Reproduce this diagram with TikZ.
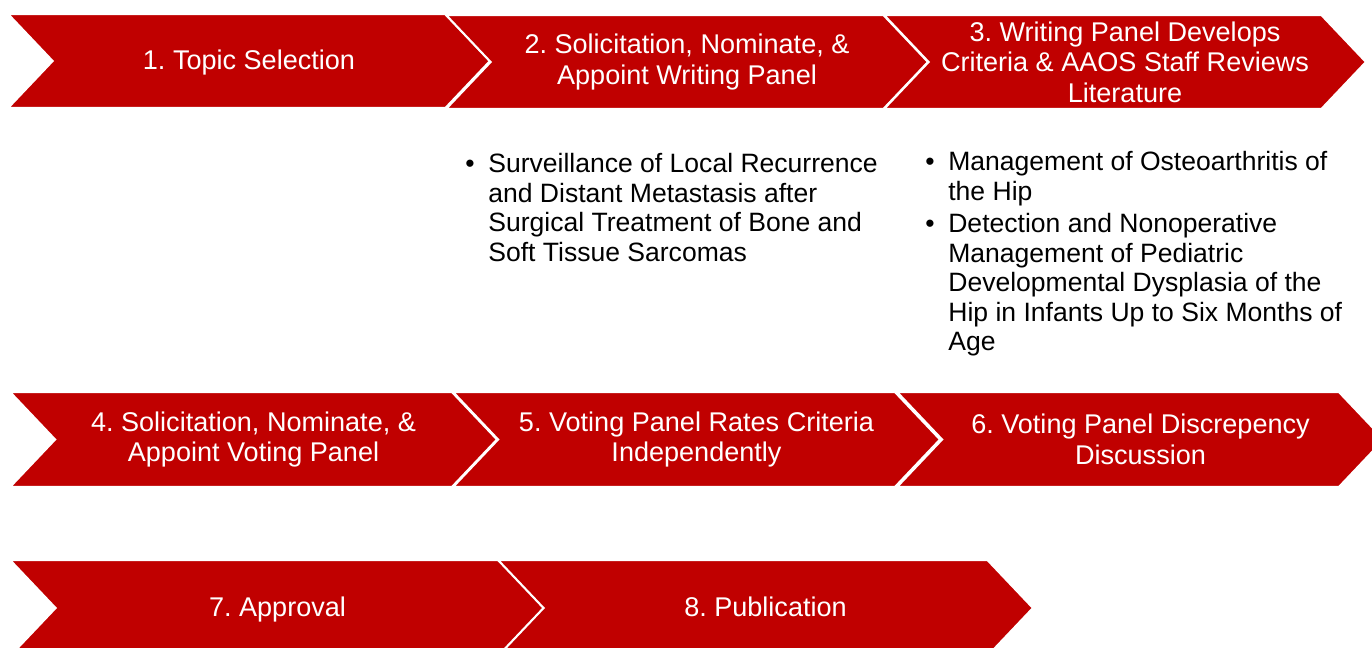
\documentclass[tikz,border=0pt]{standalone}
\usepackage{fontspec}
\setmainfont{Liberation Sans}
\usepackage{tikz}
\usetikzlibrary{shapes.symbols}
\definecolor{aared}{RGB}{192,0,0}
\tikzset{
  stepchev/.style ={signal, signal from=west, signal to=east, signal pointer angle=93,
                    fill=aared, draw=white, line width=1.2pt, text=white, align=center,
                    inner sep=0pt, minimum width=9.64cm, minimum height=1.88cm,
                    font=\fontsize{15.4}{17.3}\selectfont},
  oneline/.style  ={text height=1em, text depth=0.08em},
  rowtwo/.style   ={minimum width=9.74cm, minimum height=1.9cm},
  rowthree/.style ={minimum width=10.7cm, minimum height=1.92cm},
  topics/.style   ={anchor=north west, inner sep=0pt, align=left,
                    font=\fontsize{15.1}{16.8}\selectfont}
}
\newcommand{\topicbul}{\makebox[0.46cm][l]{\textbullet}}
\newcommand{\topicind}{\hspace*{0.46cm}}
\frenchspacing

\begin{document}
\begin{tikzpicture}
\useasboundingbox (0,0) rectangle (27.44,-12.96);
\clip (0,0) rectangle (27.44,-12.96);

\node[stepchev, oneline] (s1) at (4.98,-1.22) {1. Topic Selection};
\node[stepchev] (s2) at (13.74,-1.24) {2. Solicitation, Nominate, \&\\Appoint Writing Panel};
\node[stepchev] (s3) at (22.5,-1.24)
  {3. Writing Panel Develops\\Criteria \& AAOS Staff Reviews\\Literature};

\node[stepchev, rowtwo] (s4) at (5.07,-8.79) {4. Solicitation, Nominate, \&\\Appoint Voting Panel};
\node[stepchev, rowtwo] (s5) at (13.93,-8.79) {5. Voting Panel Rates Criteria\\Independently};
\node[stepchev, rowtwo] (s6) at (22.81,-8.79) {6. Voting Panel Discrepency\\Discussion};

\node[stepchev, rowthree, oneline] (s7) at (5.55,-12.16) {7. Approval};
\node[stepchev, rowthree, oneline] (s8) at (15.31,-12.16) {8. Publication};

\node[topics] (sarcoma) at (9.3,-3.06)
  {\topicbul Surveillance of Local Recurrence\\
   \topicind and Distant Metastasis after\\
   \topicind Surgical Treatment of Bone and\\
   \topicind Soft Tissue Sarcomas};
\node[topics] (hip) at (18.5,-3.02)
  {\topicbul Management of Osteoarthritis of\\
   \topicind the Hip\\[1.7pt]
   \topicbul Detection and Nonoperative\\
   \topicind Management of Pediatric\\
   \topicind Developmental Dysplasia of the\\
   \topicind Hip in Infants Up to Six Months of\\
   \topicind Age};
\end{tikzpicture}
\end{document}
